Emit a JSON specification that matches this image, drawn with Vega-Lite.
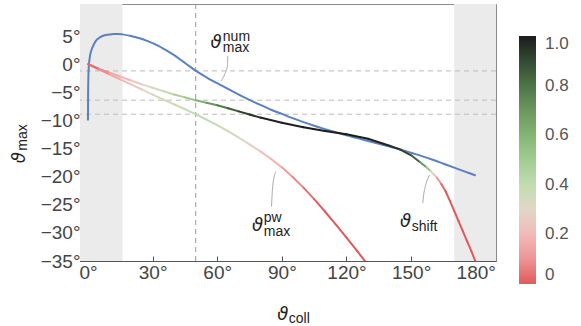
{
  "$schema": "https://vega.github.io/schema/vega-lite/v6.json",
  "width": 416,
  "height": 257,
  "autosize": {"type": "none"},
  "padding": {"left": 80, "top": 4, "right": 85, "bottom": 65},
  "background": "white",
  "config": {
    "view": {"stroke": "#8a8a8a", "strokeWidth": 1},
    "axis": {
      "grid": false,
      "domainColor": "#555555",
      "tickColor": "#555555",
      "labelColor": "#444444",
      "labelFont": "Liberation Sans",
      "labelFontSize": 19,
      "labelOverlap": false,
      "title": null
    }
  },
  "datasets": {
    "shade": [{"a": -3.7, "b": 16}, {"a": 170, "b": 189.4}],
    "hlines": [{"v": -1.2}, {"v": -6.4}, {"v": -8.9}],
    "vlines": [{"v": 50}],
    "blue": [
      {"x": 0, "y": -10}, {"x": 0.05, "y": -6}, {"x": 0.15, "y": -3}, {"x": 0.3, "y": -1}, {"x": 0.6, "y": 0.5},
      {"x": 1, "y": 1.6}, {"x": 1.7, "y": 2.6}, {"x": 2.7, "y": 3.5}, {"x": 4, "y": 4.3}, {"x": 5.5, "y": 4.75},
      {"x": 7, "y": 5.05}, {"x": 9, "y": 5.25}, {"x": 11.7, "y": 5.35}, {"x": 14, "y": 5.38}, {"x": 16, "y": 5.3},
      {"x": 20, "y": 5.0}, {"x": 24, "y": 4.6}, {"x": 28, "y": 4.05}, {"x": 32, "y": 3.4}, {"x": 36, "y": 2.55},
      {"x": 40, "y": 1.6}, {"x": 44, "y": 0.5}, {"x": 47, "y": -0.35}, {"x": 50, "y": -1.15}, {"x": 54, "y": -2.1},
      {"x": 57, "y": -2.8}, {"x": 61, "y": -3.6}, {"x": 65, "y": -4.4}, {"x": 70, "y": -5.4}, {"x": 75, "y": -6.35},
      {"x": 80, "y": -7.25}, {"x": 85, "y": -8.1}, {"x": 90, "y": -8.85}, {"x": 95, "y": -9.6}, {"x": 100, "y": -10.3},
      {"x": 105, "y": -10.95}, {"x": 110, "y": -11.55}, {"x": 115, "y": -12.1}, {"x": 120, "y": -12.65}, {"x": 125, "y": -13.15},
      {"x": 130, "y": -13.65}, {"x": 135, "y": -14.15}, {"x": 140, "y": -14.65}, {"x": 145, "y": -15.15}, {"x": 150, "y": -15.75},
      {"x": 155, "y": -16.35}, {"x": 160, "y": -17.0}, {"x": 165, "y": -17.7}, {"x": 170, "y": -18.4}, {"x": 175, "y": -19.1},
      {"x": 180, "y": -19.8}
    ],
    "segs": [
      {"s": "P", "x": 0, "y": 0, "x2": 5, "y2": -0.9, "c": 0.03},
      {"s": "P", "x": 5, "y": -0.9, "x2": 10, "y2": -1.8, "c": 0.09},
      {"s": "P", "x": 10, "y": -1.8, "x2": 15, "y2": -2.7, "c": 0.15},
      {"s": "P", "x": 15, "y": -2.7, "x2": 20, "y2": -3.6, "c": 0.2},
      {"s": "P", "x": 20, "y": -3.6, "x2": 25, "y2": -4.5, "c": 0.25},
      {"s": "P", "x": 25, "y": -4.5, "x2": 30, "y2": -5.4, "c": 0.3},
      {"s": "P", "x": 30, "y": -5.4, "x2": 35, "y2": -6.3, "c": 0.34},
      {"s": "P", "x": 35, "y": -6.3, "x2": 40, "y2": -7.15, "c": 0.37},
      {"s": "P", "x": 40, "y": -7.15, "x2": 45, "y2": -8.0, "c": 0.39},
      {"s": "P", "x": 45, "y": -8.0, "x2": 50, "y2": -8.9, "c": 0.4},
      {"s": "P", "x": 50, "y": -8.9, "x2": 55, "y2": -9.85, "c": 0.41},
      {"s": "P", "x": 55, "y": -9.85, "x2": 60, "y2": -10.85, "c": 0.4},
      {"s": "P", "x": 60, "y": -10.85, "x2": 65, "y2": -11.9, "c": 0.38},
      {"s": "P", "x": 65, "y": -11.9, "x2": 70, "y2": -13.05, "c": 0.35},
      {"s": "P", "x": 70, "y": -13.05, "x2": 75, "y2": -14.25, "c": 0.31},
      {"s": "P", "x": 75, "y": -14.25, "x2": 80, "y2": -15.5, "c": 0.27},
      {"s": "P", "x": 80, "y": -15.5, "x2": 85, "y2": -16.85, "c": 0.23},
      {"s": "P", "x": 85, "y": -16.85, "x2": 90, "y2": -18.35, "c": 0.18},
      {"s": "P", "x": 90, "y": -18.35, "x2": 95, "y2": -20.05, "c": 0.13},
      {"s": "P", "x": 95, "y": -20.05, "x2": 100, "y2": -21.95, "c": 0.08},
      {"s": "P", "x": 100, "y": -21.95, "x2": 105, "y2": -24.0, "c": 0.04},
      {"s": "P", "x": 105, "y": -24.0, "x2": 110, "y2": -26.2, "c": 0.01},
      {"s": "P", "x": 110, "y": -26.2, "x2": 115, "y2": -28.5, "c": 0},
      {"s": "P", "x": 115, "y": -28.5, "x2": 120, "y2": -30.85, "c": 0},
      {"s": "P", "x": 120, "y": -30.85, "x2": 125, "y2": -33.25, "c": 0},
      {"s": "P", "x": 125, "y": -33.25, "x2": 130, "y2": -35.7, "c": 0},
      {"s": "S", "x": 0, "y": 0, "x2": 5, "y2": -0.8, "c": 0.03},
      {"s": "S", "x": 5, "y": -0.8, "x2": 10, "y2": -1.5, "c": 0.09},
      {"s": "S", "x": 10, "y": -1.5, "x2": 15, "y2": -2.2, "c": 0.15},
      {"s": "S", "x": 15, "y": -2.2, "x2": 20, "y2": -2.9, "c": 0.2},
      {"s": "S", "x": 20, "y": -2.9, "x2": 25, "y2": -3.6, "c": 0.25},
      {"s": "S", "x": 25, "y": -3.6, "x2": 30, "y2": -4.2, "c": 0.3},
      {"s": "S", "x": 30, "y": -4.2, "x2": 35, "y2": -4.8, "c": 0.35},
      {"s": "S", "x": 35, "y": -4.8, "x2": 40, "y2": -5.4, "c": 0.41},
      {"s": "S", "x": 40, "y": -5.4, "x2": 45, "y2": -5.9, "c": 0.47},
      {"s": "S", "x": 45, "y": -5.9, "x2": 50, "y2": -6.4, "c": 0.53},
      {"s": "S", "x": 50, "y": -6.4, "x2": 55, "y2": -6.85, "c": 0.61},
      {"s": "S", "x": 55, "y": -6.85, "x2": 60, "y2": -7.3, "c": 0.7},
      {"s": "S", "x": 60, "y": -7.3, "x2": 65, "y2": -7.85, "c": 0.78},
      {"s": "S", "x": 65, "y": -7.85, "x2": 70, "y2": -8.4, "c": 0.86},
      {"s": "S", "x": 70, "y": -8.4, "x2": 75, "y2": -8.95, "c": 0.92},
      {"s": "S", "x": 75, "y": -8.95, "x2": 80, "y2": -9.5, "c": 0.96},
      {"s": "S", "x": 80, "y": -9.5, "x2": 90, "y2": -10.4, "c": 0.99},
      {"s": "S", "x": 90, "y": -10.4, "x2": 100, "y2": -11.2, "c": 1},
      {"s": "S", "x": 100, "y": -11.2, "x2": 110, "y2": -11.9, "c": 1},
      {"s": "S", "x": 110, "y": -11.9, "x2": 120, "y2": -12.45, "c": 1},
      {"s": "S", "x": 120, "y": -12.45, "x2": 130, "y2": -13.25, "c": 1},
      {"s": "S", "x": 130, "y": -13.25, "x2": 140, "y2": -14.5, "c": 0.99},
      {"s": "S", "x": 140, "y": -14.5, "x2": 145, "y2": -15.2, "c": 0.96},
      {"s": "S", "x": 145, "y": -15.2, "x2": 150, "y2": -16.2, "c": 0.92},
      {"s": "S", "x": 150, "y": -16.2, "x2": 154, "y2": -17.4, "c": 0.85},
      {"s": "S", "x": 154, "y": -17.4, "x2": 157, "y2": -18.3, "c": 0.71},
      {"s": "S", "x": 157, "y": -18.3, "x2": 159, "y2": -19.0, "c": 0.53},
      {"s": "S", "x": 159, "y": -19.0, "x2": 160.5, "y2": -19.6, "c": 0.37},
      {"s": "S", "x": 160.5, "y": -19.6, "x2": 162, "y2": -20.2, "c": 0.22},
      {"s": "S", "x": 162, "y": -20.2, "x2": 164, "y2": -21.3, "c": 0.1},
      {"s": "S", "x": 164, "y": -21.3, "x2": 166, "y2": -22.6, "c": 0.02},
      {"s": "S", "x": 166, "y": -22.6, "x2": 168, "y2": -24.3, "c": 0},
      {"s": "S", "x": 168, "y": -24.3, "x2": 170, "y2": -26.1, "c": 0},
      {"s": "S", "x": 170, "y": -26.1, "x2": 172, "y2": -27.9, "c": 0},
      {"s": "S", "x": 172, "y": -27.9, "x2": 174, "y2": -29.7, "c": 0},
      {"s": "S", "x": 174, "y": -29.7, "x2": 176, "y2": -31.5, "c": 0},
      {"s": "S", "x": 176, "y": -31.5, "x2": 178, "y2": -33.3, "c": 0},
      {"s": "S", "x": 178, "y": -33.3, "x2": 180.2, "y2": -35.4, "c": 0}
    ],
    "leaders": [
      {"id": "num", "o": 1, "x": 64.9, "y": 1.44}, {"id": "num", "o": 2, "x": 64.7, "y": -0.34}, {"id": "num", "o": 3, "x": 63.5, "y": -1.76}, {"id": "num", "o": 4, "x": 61.7, "y": -3.0},
      {"id": "pw", "o": 1, "x": 87.2, "y": -19.1}, {"id": "pw", "o": 2, "x": 85.8, "y": -21.5}, {"id": "pw", "o": 3, "x": 85.2, "y": -25.3},
      {"id": "sh", "o": 1, "x": 158.6, "y": -19.7}, {"id": "sh", "o": 2, "x": 156.7, "y": -21.6}, {"id": "sh", "o": 3, "x": 155.8, "y": -23.3}, {"id": "sh", "o": 4, "x": 155.4, "y": -24.7}
    ],
    "sym": [
      {"x": 62.1, "y": 2.86, "t": "ϑ"},
      {"x": 81.3, "y": -29.7, "t": "ϑ"},
      {"x": 150.0, "y": -29.0, "t": "ϑ"},
      {"x": 93.0, "y": -45.5, "t": "ϑ"}
    ],
    "script": [
      {"x": 62.6, "y": 4.1, "t": "num"},
      {"x": 62.6, "y": 2.15, "t": "max"},
      {"x": 81.6, "y": -28.05, "t": "pw"},
      {"x": 81.6, "y": -30.5, "t": "max"},
      {"x": 150.3, "y": -29.6, "t": "shift"},
      {"x": 93.2, "y": -46.0, "t": "coll"}
    ],
    "ysym": [{"x": -29.2, "y": -17.6, "t": "ϑ"}],
    "yscript": [{"x": -28.3, "y": -15.4, "t": "max"}]
  },
  "layer": [
    {
      "data": {"name": "shade"},
      "mark": {"type": "rect", "color": "#ebebeb"},
      "encoding": {
        "x": {"field": "a", "type": "quantitative", "scale": {"domain": [-3.7, 189.4], "nice": false, "zero": false},
              "axis": {"values": [0, 30, 60, 90, 120, 150, 180], "tickCount": 20, "labelExpr": "datum.value + '°'", "tickSize": -5, "labelPadding": 7}},
        "x2": {"field": "b"}
      }
    },
    {
      "data": {"name": "hlines"},
      "mark": {"type": "rule", "color": "#bbbbbb", "strokeWidth": 1, "strokeDash": [5, 4]},
      "encoding": {
        "y": {"field": "v", "type": "quantitative", "scale": {"domain": [-35, 10.7], "nice": false, "zero": false},
              "axis": {"values": [-35, -30, -25, -20, -15, -10, -5, 0, 5], "tickCount": 20, "format": "d", "labelExpr": "datum.label + '°'", "tickSize": -5, "labelPadding": 5}}
      }
    },
    {
      "data": {"name": "vlines"},
      "mark": {"type": "rule", "color": "#999999", "strokeWidth": 1, "strokeDash": [5, 4]},
      "encoding": {"x": {"field": "v", "type": "quantitative"}}
    },
    {
      "data": {"name": "blue"},
      "mark": {"type": "line", "color": "#5b80c0", "strokeWidth": 2, "interpolate": "monotone"},
      "encoding": {
        "x": {"field": "x", "type": "quantitative"},
        "y": {"field": "y", "type": "quantitative"}
      }
    },
    {
      "data": {"name": "segs"},
      "mark": {"type": "rule", "strokeWidth": 2, "strokeCap": "round", "clip": true},
      "encoding": {
        "x": {"field": "x", "type": "quantitative"},
        "y": {"field": "y", "type": "quantitative"},
        "x2": {"field": "x2"},
        "y2": {"field": "y2"},
        "color": {
          "field": "c", "type": "quantitative",
          "scale": {
            "domain": [0, 0.1, 0.2, 0.3, 0.4, 0.5, 0.6, 0.7, 0.8, 0.9, 1],
            "range": ["#e05a5c", "#ec9496", "#f2b9b8", "#e2d6c6", "#c2dcb0", "#a2cc92", "#84b574", "#6b985c", "#4e7447", "#344a33", "#1c1c1c"],
            "interpolate": "rgb"
          },
          "legend": {
            "title": null, "orient": "none", "legendX": 439, "legendY": 32, "direction": "vertical",
            "gradientLength": 248, "gradientThickness": 17, "gradientStrokeWidth": 0,
            "values": [0, 0.2, 0.4, 0.6, 0.8, 1],
            "labelExpr": "datum.value == 0 ? '0' : format(datum.value, '.1f')",
            "labelFont": "Liberation Sans", "labelFontSize": 17, "labelColor": "#555555", "labelOffset": 9
          }
        }
      }
    },
    {
      "data": {"name": "leaders"},
      "mark": {"type": "line", "color": "#aaaaaa", "strokeWidth": 1, "interpolate": "monotone"},
      "encoding": {
        "x": {"field": "x", "type": "quantitative"},
        "y": {"field": "y", "type": "quantitative"},
        "detail": {"field": "id"},
        "order": {"field": "o"}
      }
    },
    {
      "data": {"name": "sym"},
      "mark": {"type": "text", "align": "right", "baseline": "alphabetic", "font": "DejaVu Sans", "fontStyle": "italic", "fontSize": 18, "color": "#222222"},
      "encoding": {
        "x": {"field": "x", "type": "quantitative"},
        "y": {"field": "y", "type": "quantitative"},
        "text": {"field": "t"}
      }
    },
    {
      "data": {"name": "script"},
      "mark": {"type": "text", "align": "left", "baseline": "alphabetic", "font": "Liberation Sans", "fontSize": 14, "color": "#222222"},
      "encoding": {
        "x": {"field": "x", "type": "quantitative"},
        "y": {"field": "y", "type": "quantitative"},
        "text": {"field": "t"}
      }
    },
    {
      "data": {"name": "ysym"},
      "mark": {"type": "text", "align": "left", "baseline": "alphabetic", "angle": 270, "font": "DejaVu Sans", "fontStyle": "italic", "fontSize": 18, "color": "#222222"},
      "encoding": {
        "x": {"field": "x", "type": "quantitative"},
        "y": {"field": "y", "type": "quantitative"},
        "text": {"field": "t"}
      }
    },
    {
      "data": {"name": "yscript"},
      "mark": {"type": "text", "align": "left", "baseline": "alphabetic", "angle": 270, "font": "Liberation Sans", "fontSize": 14, "color": "#222222"},
      "encoding": {
        "x": {"field": "x", "type": "quantitative"},
        "y": {"field": "y", "type": "quantitative"},
        "text": {"field": "t"}
      }
    }
  ]
}
